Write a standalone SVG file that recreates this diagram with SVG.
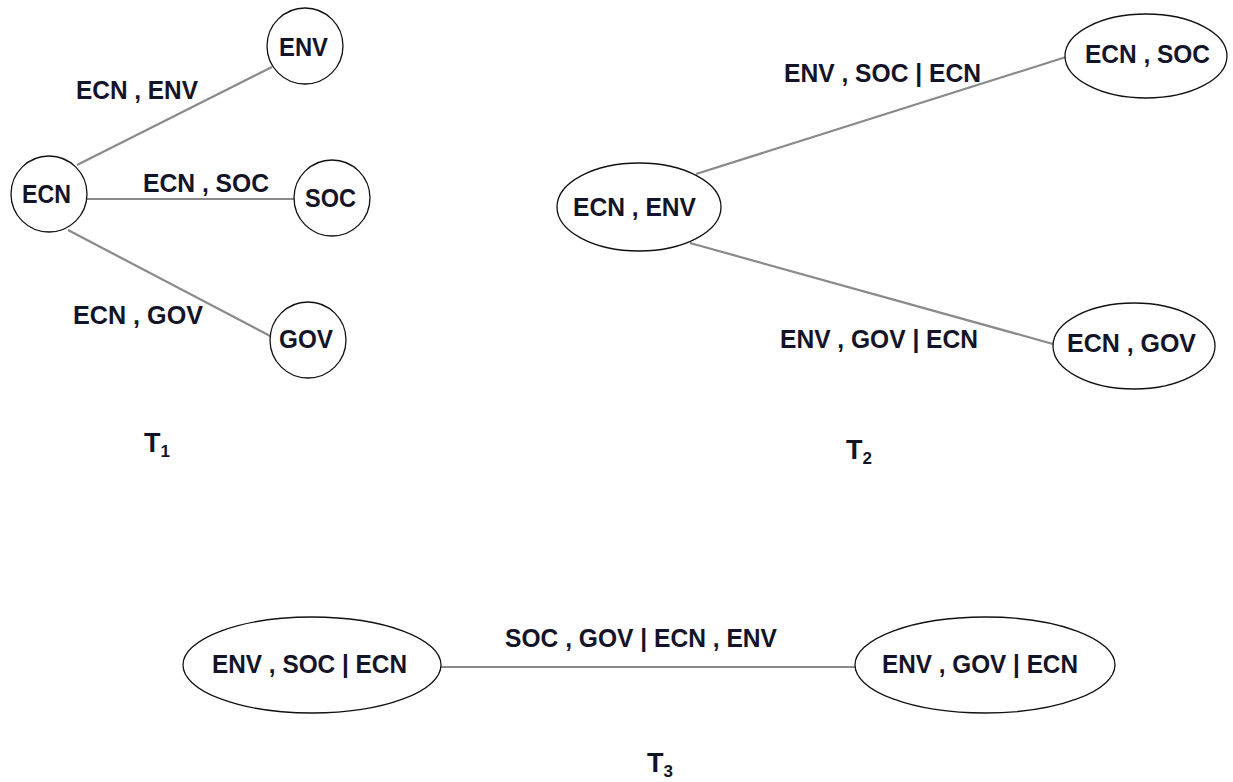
<svg xmlns="http://www.w3.org/2000/svg" width="1233" height="782" viewBox="0 0 1233 782">
<style>
.node{fill:#fff;stroke:#111;stroke-width:1.3}
.edge{stroke:#8a8a8a;stroke-width:2.2;fill:none}
text{font-family:"Liberation Sans",Arial,sans-serif;font-weight:bold;font-size:25px;fill:#141428}
.title{font-size:27px}
.sub{font-size:17px}
</style>
<rect width="1233" height="782" fill="#fff"/>
<g id="connectors">
<line class="edge" x1="77" y1="165" x2="272" y2="67"/>
<line class="edge" x1="87" y1="199" x2="294" y2="199"/>
<line class="edge" x1="68" y1="230" x2="272" y2="337"/>
<line class="edge" x1="696" y1="174" x2="1066" y2="57"/>
<line class="edge" x1="690" y1="243" x2="1053" y2="344"/>
<line class="edge" x1="441" y1="667" x2="856" y2="667"/>
</g>
<g id="edge-labels">
<text x="76" y="99" textLength="122" lengthAdjust="spacingAndGlyphs">ECN , ENV</text>
<text x="143" y="192" textLength="126" lengthAdjust="spacingAndGlyphs">ECN , SOC</text>
<text x="73" y="324" textLength="130" lengthAdjust="spacingAndGlyphs">ECN , GOV</text>
<text x="784" y="82" textLength="197" lengthAdjust="spacingAndGlyphs">ENV , SOC | ECN</text>
<text x="780" y="348" textLength="198" lengthAdjust="spacingAndGlyphs">ENV , GOV | ECN</text>
<text x="505" y="647" textLength="272" lengthAdjust="spacingAndGlyphs">SOC , GOV | ECN , ENV</text>
</g>
<g id="t1-ecn"><circle class="node" cx="49" cy="194" r="38"/><text x="22" y="203" textLength="49" lengthAdjust="spacingAndGlyphs">ECN</text></g>
<g id="t1-env"><circle class="node" cx="305" cy="46" r="38"/><text x="279" y="56" textLength="49" lengthAdjust="spacingAndGlyphs">ENV</text></g>
<g id="t1-soc"><circle class="node" cx="332" cy="198" r="38"/><text x="305" y="207" textLength="51" lengthAdjust="spacingAndGlyphs">SOC</text></g>
<g id="t1-gov"><circle class="node" cx="308" cy="340" r="38"/><text x="279" y="348" textLength="54" lengthAdjust="spacingAndGlyphs">GOV</text></g>
<g id="t2-ecn-env"><ellipse class="node" cx="639" cy="207" rx="82" ry="44"/><text x="573" y="216" textLength="123" lengthAdjust="spacingAndGlyphs">ECN , ENV</text></g>
<g id="t2-ecn-soc"><ellipse class="node" cx="1146" cy="56" rx="81" ry="42"/><text x="1085" y="63" textLength="125" lengthAdjust="spacingAndGlyphs">ECN , SOC</text></g>
<g id="t2-ecn-gov"><ellipse class="node" cx="1134" cy="346" rx="81" ry="43"/><text x="1067" y="352" textLength="129" lengthAdjust="spacingAndGlyphs">ECN , GOV</text></g>
<g id="t3-env-soc"><ellipse class="node" cx="312" cy="665" rx="129" ry="48"/><text x="212" y="673" textLength="195" lengthAdjust="spacingAndGlyphs">ENV , SOC | ECN</text></g>
<g id="t3-env-gov"><ellipse class="node" cx="985" cy="665" rx="130" ry="48"/><text x="882" y="673" textLength="196" lengthAdjust="spacingAndGlyphs">ENV , GOV | ECN</text></g>
<g id="titles">
<text class="title" x="144" y="452">T<tspan class="sub" dy="5">1</tspan></text>
<text class="title" x="846" y="459">T<tspan class="sub" dy="5">2</tspan></text>
<text class="title" x="647" y="772">T<tspan class="sub" dy="5">3</tspan></text>
</g>
</svg>
